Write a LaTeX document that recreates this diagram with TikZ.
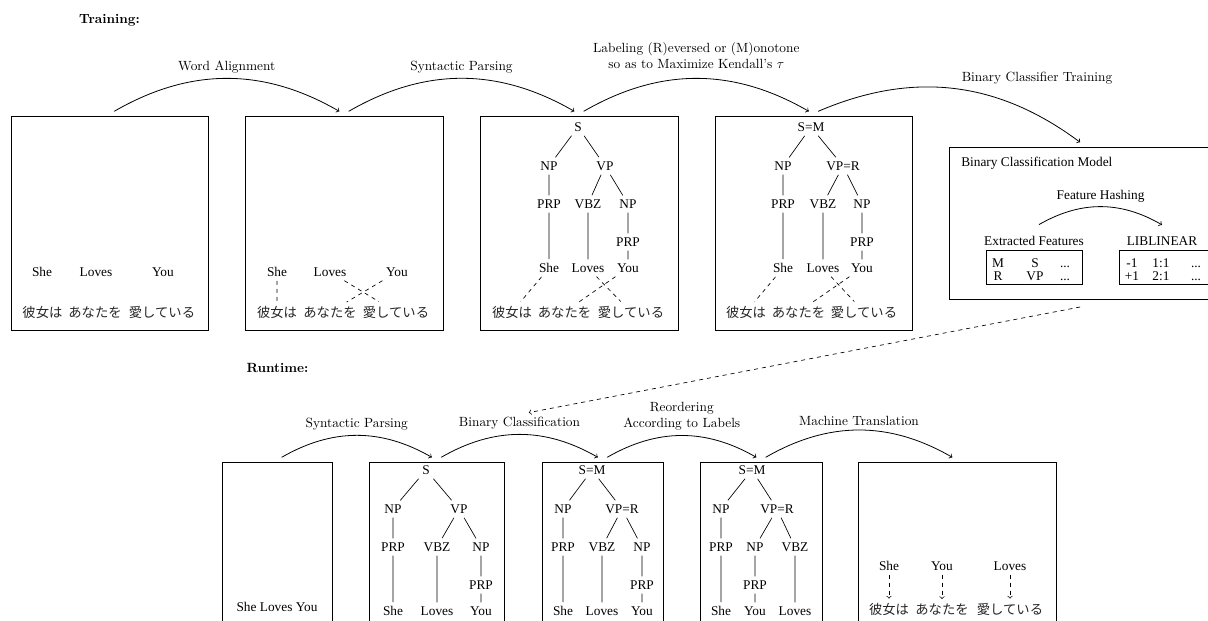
\documentclass[tikz,border=0pt]{standalone}
\usepackage{fontspec}
\newfontfamily\tnr{Liberation Serif}
\newfontfamily\jafont{Noto Sans CJK JP}
\usetikzlibrary{calc}
\tikzset{
  box/.style={draw, line width=0.6pt, inner sep=0pt, outer sep=0pt},
  bwh/.style 2 args={minimum width=#1*0.75pt, minimum height=#2*0.75pt},
  tl/.style={font=\tnr\fontsize{10}{12}\selectfont, inner sep=3pt},
  dotsnode/.style={tl, text height=6.6pt, text depth=0pt},
  lab/.style={font=\fontsize{10}{12}\selectfont, align=center},
  ja/.style={font=\jafont\fontsize{10}{12}\selectfont, text=black!85, inner sep=3pt},
  treeedge/.style={line width=0.5pt},
  dashline/.style={dashed, line width=0.5pt},
  flow/.style={->, line width=0.6pt},
  ttl/.style={font=\bfseries\fontsize{10}{12}\selectfont},
}
\newcommand\mytree[9]{%
  \node[tl] (#1S) at (#4,127) {#2};
  \node[tl] (#1np) at (#5,166) {NP};
  \node[tl] (#1vp) at (#6,166) {#3};
  \node[tl] (#1prp) at (#7,204) {PRP};
  \node[tl] (#1vbz) at (#8,204) {VBZ};
  \node[tl] (#1npb) at (#9,204) {NP};
  \node[tl] (#1prpb) at (#9,242) {PRP};
  \node[tl] (#1she) at (#7,268) {She};
  \node[tl] (#1loves) at (#8,268) {Loves};
  \node[tl] (#1you) at (#9,268) {You};
  \draw[treeedge] (#1S)--(#1np) (#1S)--(#1vp) (#1np)--(#1prp) (#1vp)--(#1vbz)
    (#1vp)--(#1npb) (#1prp)--(#1she) (#1vbz)--(#1loves) (#1npb)--(#1prpb) (#1prpb)--(#1you);
}
\begin{document}
\begin{tikzpicture}[x=0.75pt,y=-0.75pt]
\useasboundingbox (0,0) rectangle (1208,621);
\clip (0,0) rectangle (1208,621);

% titles
\node[ttl] (train) at (109.5,20) {Training:};
\node[ttl] (run) at (277.5,368) {Runtime:};

% ---------- training row ----------
\node[box,bwh={197}{214}] (a) at (109.5,223) {};
\node[box,bwh={198}{214}] (b) at (344,223) {};
\node[box,bwh={198}{214}] (c) at (579,223) {};
\node[box,bwh={197}{214}] (d) at (813.5,223) {};
\node[box,bwh={273}{152}] (m) at (1085.5,223) {};

% box a
\node[tl] (ashe) at (42,272) {She};
\node[tl] (aloves) at (96,272) {Loves};
\node[tl] (ayou) at (163,272) {You};
\node[ja] (aj1) at (42.5,312) {彼女は};
\node[ja] (aj2) at (95,312) {あなたを};
\node[ja] (aj3) at (162,312) {愛している};

% box b
\node[tl] (bshe) at (277,272) {She};
\node[tl] (bloves) at (330,272) {Loves};
\node[tl] (byou) at (397,272) {You};
\node[ja] (bj1) at (277,312) {彼女は};
\node[ja] (bj2) at (330,312) {あなたを};
\node[ja] (bj3) at (396,312) {愛している};
\draw[dashline] (bshe)--(bj1) (bloves)--(bj3) (byou)--(bj2);

% box c
\mytree{tc}{S}{VP}{578}{549}{605}{549}{588}{628}
\node[ja] (cj1) at (512,312) {彼女は};
\node[ja] (cj2) at (564.5,312) {あなたを};
\node[ja] (cj3) at (631,312) {愛している};
\draw[dashline] (tcshe)--(cj1) (tcloves)--(cj3) (tcyou)--(cj2);

% box d
\mytree{td}{S=M}{VP=R}{811}{783}{843}{783}{823}{862}
\node[ja] (dj1) at (746,312) {彼女は};
\node[ja] (dj2) at (798.5,312) {あなたを};
\node[ja] (dj3) at (864,312) {愛している};
\draw[dashline] (tdshe)--(dj1) (tdloves)--(dj3) (tdyou)--(dj2);

% model box
\node[tl,anchor=west] (mtitle) at (957,163) {Binary Classification Model};
\node[tl] (ef) at (1034,241) {Extracted Features};
\node[tl] (lib) at (1162,241) {LIBLINEAR};
\node[box,bwh={96}{34}] (fb) at (1034,267) {};
\node[box,bwh={96}{34}] (lb) at (1167,267) {};
\node[dotsnode] (f11) at (998,263) {M};
\node[dotsnode] (f12) at (1035,263) {S};
\node[dotsnode] (f13) at (1065,263) {...};
\node[dotsnode] (f21) at (998,276) {R};
\node[dotsnode] (f22) at (1035,276) {VP};
\node[dotsnode] (f23) at (1065,276) {...};
\node[dotsnode] (g11) at (1132,263) {-1};
\node[dotsnode] (g12) at (1161,263) {1:1};
\node[dotsnode] (g13) at (1196,263) {...};
\node[dotsnode] (g21) at (1132,276) {+1};
\node[dotsnode] (g22) at (1161,276) {2:1};
\node[dotsnode] (g23) at (1196,276) {...};
\draw[flow] ([xshift=3.75pt,yshift=5.6pt]ef.north) to[bend left=30]
  node[tl,above] (fh) {Feature Hashing} ([yshift=5.6pt]lib.north);

% training arcs
\draw[flow] ([xshift=3.5pt,yshift=3.5pt]a.north) to[bend left=30]
  node[lab,above] (l1) {Word Alignment} ([xshift=-3.5pt,yshift=3.5pt]b.north);
\draw[flow] ([xshift=3.5pt,yshift=3.5pt]b.north) to[bend left=30]
  node[lab,above] (l2) {Syntactic Parsing} ([xshift=-3.5pt,yshift=3.5pt]c.north);
\draw[flow] ([xshift=3.5pt,yshift=3.5pt]c.north) to[bend left=30]
  node[lab,above,yshift=4pt] (l3) {Labeling (R)eversed or (M)onotone\\so as to Maximize Kendall's $\tau$} ([xshift=-3.5pt,yshift=3.5pt]d.north);
\draw[flow] ([xshift=3.5pt,yshift=3.5pt]d.north) to[bend left=30] ([xshift=-4pt,yshift=3.5pt]m.north);
\node[lab] (l4) at (1037,78) {Binary Classifier Training};

% ---------- runtime row ----------
\node[box,bwh={110}{188}] (e1) at (277,556) {};
\node[box,bwh={135}{188}] (e2) at (436.5,556) {};
\node[box,bwh={121}{188}] (e3) at (602.5,556) {};
\node[box,bwh={122}{188}] (e4) at (761,556) {};
\node[box,bwh={198}{188}] (e5) at (957,556) {};

\node[tl] (e1txt) at (277,607) {She Loves You};

\begin{scope}[shift={(0,343)}]
\mytree{tf}{S}{VP}{426}{393}{459}{393}{437}{481}
\mytree{tg}{S=M}{VP=R}{592}{563}{622}{563}{602}{642}
% reordered tree
\node[tl] (thS) at (752,127) {S=M};
\node[tl] (thnp) at (721,166) {NP};
\node[tl] (thvp) at (777,166) {VP=R};
\node[tl] (thprp) at (721,204) {PRP};
\node[tl] (thnpb) at (755,204) {NP};
\node[tl] (thvbz) at (795,204) {VBZ};
\node[tl] (thprpb) at (755,242) {PRP};
\node[tl] (thshe) at (721,268) {She};
\node[tl] (thyou) at (755,268) {You};
\node[tl] (thloves) at (795,268) {Loves};
\draw[treeedge] (thS)--(thnp) (thS)--(thvp) (thnp)--(thprp) (thvp)--(thnpb)
  (thvp)--(thvbz) (thprp)--(thshe) (thnpb)--(thprpb) (thprpb)--(thyou) (thvbz)--(thloves);
\end{scope}

% box e5
\node[tl] (eshe) at (889,566) {She};
\node[tl] (eyou) at (942,566) {You};
\node[tl] (eloves) at (1010,566) {Loves};
\node[ja] (ej1) at (889,609) {彼女は};
\node[ja] (ej2) at (942,609) {あなたを};
\node[ja] (ej3) at (1010,609) {愛している};
\draw[dashline,->] (eshe)--(ej1);
\draw[dashline,->] (eyou)--(ej2);
\draw[dashline,->] (eloves)--(ej3);

% runtime arcs
\draw[flow] ([xshift=3.5pt,yshift=3.5pt]e1.north) to[bend left=30]
  node[lab,above] (r1) {Syntactic Parsing} ([xshift=-3.5pt,yshift=3.5pt]e2.north);
\draw[flow] ([xshift=3.5pt,yshift=3.5pt]e2.north) to[bend left=30]
  node[lab,above] (r2) {Binary Classification} ([xshift=-3.5pt,yshift=3.5pt]e3.north);
\draw[flow] ([xshift=3.5pt,yshift=3.5pt]e3.north) to[bend left=30]
  node[lab,above] (r3) {Reordering\\According to Labels} ([xshift=-3.5pt,yshift=3.5pt]e4.north);
\draw[flow] ([xshift=3.5pt,yshift=3.5pt]e4.north) to[bend left=30]
  node[lab,above] (r4) {Machine Translation} ([xshift=-3.5pt,yshift=3.5pt]e5.north);

% model to runtime
\draw[dashline,->] ([xshift=-4pt,yshift=-6pt]m.south) -- ([xshift=7pt]r2.north);
\end{tikzpicture}
\end{document}
